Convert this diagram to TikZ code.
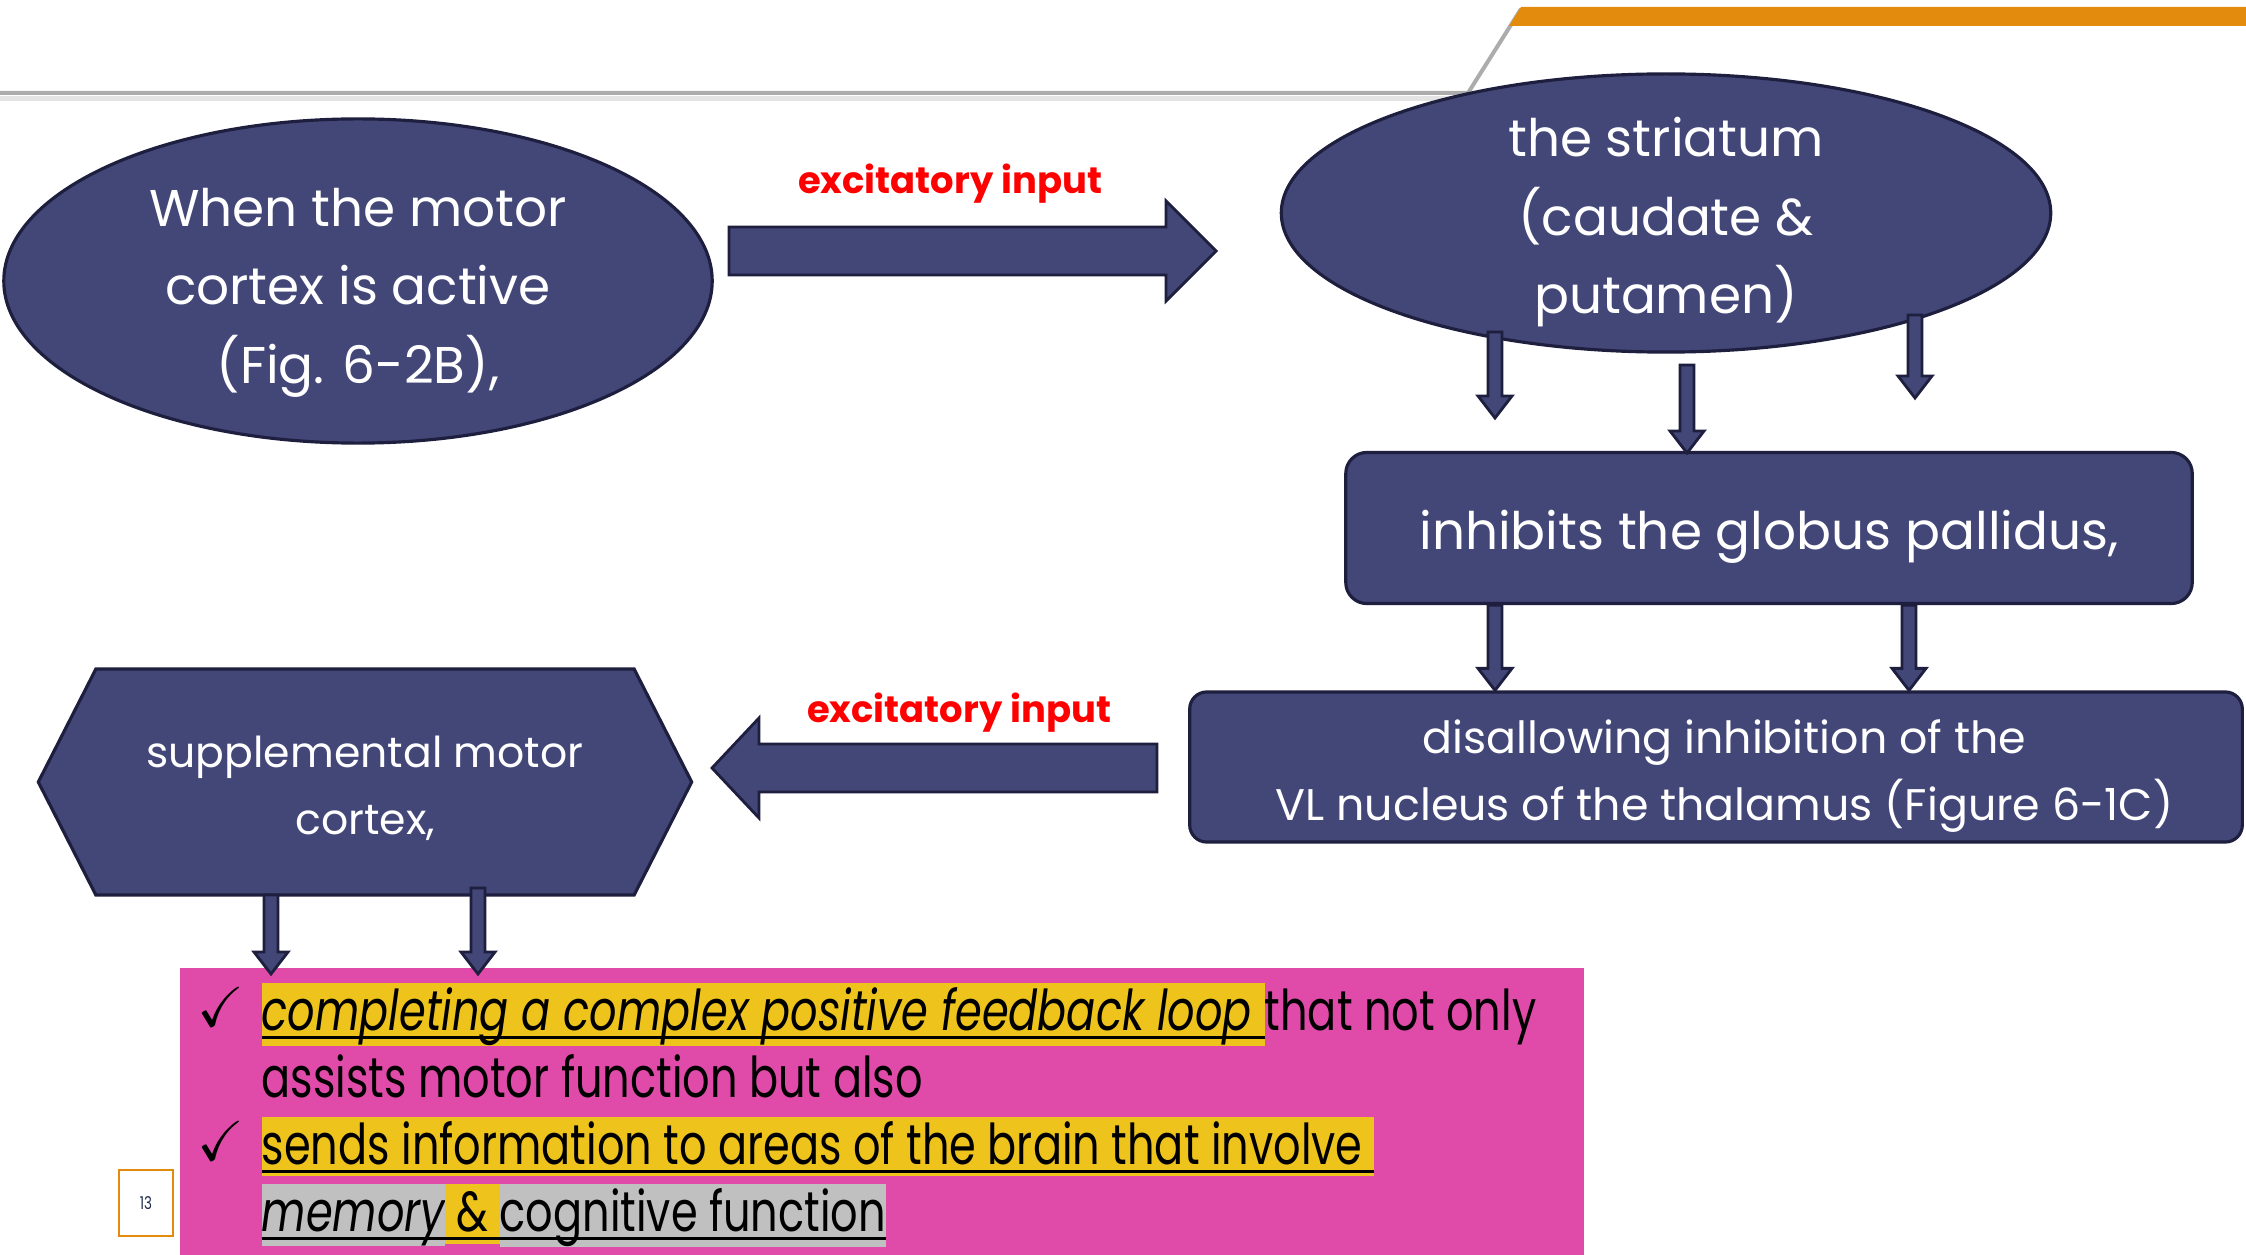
\documentclass[tikz,border=0pt]{standalone}
\usepackage{amssymb}
\usepackage{fontspec}
\setmainfont{Poppins}
\newfontfamily\condfont[FakeStretch=0.765]{Poppins}
\usetikzlibrary{shapes.geometric,shapes.symbols,calc,positioning}
\definecolor{navyfill}{HTML}{434778}
\definecolor{navyline}{HTML}{1E1F3F}
\definecolor{barorange}{HTML}{E38B0C}
\definecolor{notepink}{HTML}{E04BA9}
\definecolor{hlyellow}{HTML}{EDC31C}
\definecolor{hlgray}{HTML}{C0C0C0}
\definecolor{labelred}{HTML}{FF0000}
\definecolor{pagenum}{HTML}{1E2A4A}
\newcommand{\ovaltxt}{\fontsize{14.7pt}{22.4pt}\selectfont}
\newcommand{\boxtxt}{\fontsize{12.6pt}{19pt}\selectfont}
\newcommand{\hextxt}{\fontsize{12.1pt}{19pt}\selectfont}
\newcommand{\notetxt}{\condfont\fontsize{16pt}{19.06pt}\selectfont}
\newcommand{\topstrut}[1]{\rule{0pt}{#1}}
% highlighted and underlined runs of text
\newsavebox{\ulbox}
\newcommand{\ulx}[1]{\sbox{\ulbox}{#1}\rlap{\rule[-2.4pt]{\wd\ulbox}{0.85pt}}\usebox{\ulbox}}
\newcommand{\hly}[1]{{\setlength{\fboxsep}{0pt}\colorbox{hlyellow}{\rule[-3.4pt]{0pt}{17pt}#1}}}
\newcommand{\hlg}[1]{{\setlength{\fboxsep}{0pt}\colorbox{hlgray}{\rule[-3.4pt]{0pt}{17pt}#1}}}
% block arrows between two coordinates
\newcommand{\vblock}[2]{\draw[blockline] ($(#1)+(-7,0)$) -- ($(#2)+(-7,-22)$) -- ($(#2)+(-17,-22)$) -- (#2) -- ($(#2)+(17,-22)$) -- ($(#2)+(7,-22)$) -- ($(#1)+(7,0)$) -- cycle;}
\newcommand{\hblock}[3]{\draw[blockline] ($(#1)+(0,-24)$) -- ($(#2)+(#3,-24)$) -- ($(#2)+(#3,-50)$) -- (#2) -- ($(#2)+(#3,50)$) -- ($(#2)+(#3,24)$) -- ($(#1)+(0,24)$) -- cycle;}
\tikzset{
  navybox/.style = {draw=navyline, fill=navyfill, line width=0.9pt, text=white, align=center, inner sep=0pt},
  navyoval/.style = {navybox, ellipse, inner ysep=-0.6cm, font=\ovaltxt},
  blockline/.style = {draw=navyline, fill=navyfill, line width=0.8pt},
  redlabel/.style = {text=labelred, font=\fontsize{10.5pt}{12pt}\selectfont\bfseries},
  notetext/.style = {inner sep=0pt, align=left, font=\notetxt},
  checktext/.style = {inner sep=0pt, font=\fontsize{16pt}{18pt}\selectfont},
}

\begin{document}
\begin{tikzpicture}[x=0.01cm, y=-0.01cm]
\useasboundingbox (0,0) rectangle (2246,1255);
% header rule and bar
\fill[gray!22] (0,96) rectangle (1466,101);
\draw[gray!65, line width=0.04cm] (0,93) -- (1468,93) -- (1521,9);
\fill[barorange] (1509,26) -- (1521,7) -- (2246,7) -- (2246,26) -- cycle;

\node[navyoval, minimum width=7.08cm, minimum height=3.24cm] (motor) at (358,281) {\topstrut{17.5pt}When the motor\\cortex is active\\(Fig. 6-2B),};
\node[navyoval, minimum width=7.69cm, minimum height=2.78cm] (stri) at (1666,213) {\topstrut{16.4pt}the striatum\\(caudate \&\\putamen)};
\node[navybox, rectangle, rounded corners=0.21cm, minimum width=8.46cm, minimum height=1.51cm, font=\ovaltxt] (pall) at (1769,528) {\topstrut{16.4pt}inhibits the globus pallidus,};
\node[navybox, rectangle, rounded corners=0.17cm, minimum width=10.52cm, minimum height=1.50cm, font=\boxtxt] (thal) at (1716,767) {\topstrut{15pt}\hspace*{0.17cm}disallowing inhibition of the\\\hspace*{0.17cm}VL nucleus of the thalamus (Figure 6-1C)};
\node[navybox, signal, signal to=west and east, signal pointer angle=126, minimum width=6.53cm, minimum height=2.26cm, font=\hextxt] (sma) at (365,782) {\topstrut{12.4pt}supplemental motor\\cortex,};

\node[redlabel] (exc1) at (950,184) {excitatory input};
\node[redlabel] (exc2) at (959,713) {excitatory input};

\coordinate (r1s) at (729,251);
\coordinate (r1t) at (1216,251);
\hblock{r1s}{r1t}{-50}
\coordinate (r2s) at (1157,768);
\coordinate (r2t) at (712,768);
\hblock{r2s}{r2t}{47}

% note box
\node[fill=notepink, minimum width=14.04cm, minimum height=2.88cm, inner sep=0pt] (note) at (882,1112) {};
\node[checktext] (chk1) at (221,1007) {$\checkmark$};
\node[checktext] (chk2) at (221,1141) {$\checkmark$};
\node[notetext, anchor=north west] (item1) at (261,982) {\hly{\ulx{\itshape completing a complex positive feedback loop }}that not only\\assists motor function but also};
\node[notetext, anchor=north west] (item2) at (261,1116) {\hly{\ulx{sends information to areas of the brain that involve }}\\\hlg{\ulx{\itshape memory}}\hly{\ulx{\ \&\ }}\hlg{\ulx{cognitive function}}};

% down arrows
\foreach \x/\ys/\ye [count=\i] in {1495/332/418, 1687/365/453, 1915/315/398} {
  \coordinate (sd\i) at (\x,\ys);
  \coordinate (se\i) at (\x,\ye);
  \vblock{sd\i}{se\i}
}
\coordinate (pd1) at (1495,0 |- pall.south);
\coordinate (pe1) at (1495,0 |- thal.north);
\vblock{pd1}{pe1}
\coordinate (pd2) at (1909,0 |- pall.south);
\coordinate (pe2) at (1909,0 |- thal.north);
\vblock{pd2}{pe2}
\coordinate (md1) at (271,895);
\coordinate (me1) at (271,974);
\vblock{md1}{me1}
\coordinate (md2) at (478,888);
\coordinate (me2) at (478,974);
\vblock{md2}{me2}

\node[draw=barorange, line width=0.6pt, minimum width=0.54cm, minimum height=0.66cm, inner sep=0pt, text=pagenum, font=\condfont\fontsize{5pt}{6pt}\selectfont] (page) at (146,1203) {13};
\end{tikzpicture}
\end{document}
